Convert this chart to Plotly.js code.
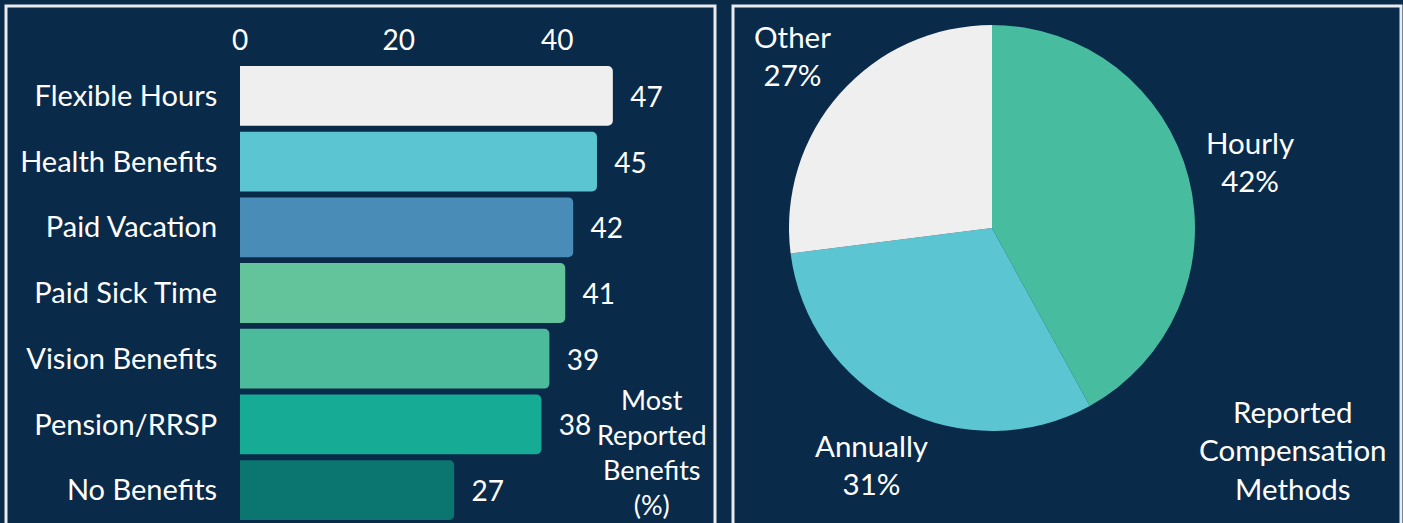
<!DOCTYPE html>
<html>
<head>
<meta charset="utf-8">
<script src="https://cdn.plot.ly/plotly-3.0.1.min.js"></script>
<style>
  html, body { margin: 0; padding: 0; background: #0a2a4a; }
  #chart { width: 1403px; height: 523px; }
</style>
</head>
<body>
<div id="chart"></div>
<script>
// Bar chart data
const benefitCategories = ["Flexible Hours", "Health Benefits", "Paid Vacation", "Paid Sick Time", "Vision Benefits", "Pension/RRSP", "No Benefits"];
const benefitValues = [47, 45, 42, 41, 39, 38, 27];
const benefitColors = ["#efefef", "#5bc5d2", "#4a8cb8", "#63c39b", "#4cbb9c", "#16ab95", "#0b7570"];
const benefitTickVals = [0, 20, 40];

// Pie chart data
const compLabels = ["Hourly", "Annually", "Other"];
const compValues = [42, 31, 27];
const compColors = ["#48bc9f", "#5bc5d2", "#efefef"];

const W = 1403, H = 523;
const px = v => v / W;
const py = v => 1 - v / H;
const FONT = "Lato, 'Open Sans', sans-serif";
const TEXT = "#ffffff";
const BORDER = "#e8eaed";

// pie placement (pixels)
const PIE_LEFT = 789, PIE_RIGHT = 1195, PIE_TOP = 25, PIE_BOTTOM = 431;
const PIE_CX = (PIE_LEFT + PIE_RIGHT) / 2, PIE_CY = (PIE_TOP + PIE_BOTTOM) / 2;
const PIE_R = (PIE_RIGHT - PIE_LEFT) / 2;
const PIE_FONT = 29.5;
const LABEL_K = 1.31;

const barTrace = {
  type: "bar",
  orientation: "h",
  y: benefitCategories,
  x: benefitValues,
  marker: { color: benefitColors, cornerradius: 5, line: { width: 0 } },
  texttemplate: "\u00a0\u00a0%{x}",
  textposition: "outside",
  outsidetextfont: { family: FONT, size: 28, color: TEXT },
  cliponaxis: false,
  xaxis: "x", yaxis: "y",
  hoverinfo: "none"
};

const pieTrace = {
  type: "pie",
  labels: compLabels,
  values: compValues,
  marker: { colors: compColors, line: { width: 0 } },
  sort: false,
  direction: "clockwise",
  rotation: 0,
  textinfo: "none",
  domain: { x: [px(PIE_LEFT), px(PIE_RIGHT)], y: [py(PIE_BOTTOM), py(PIE_TOP)] },
  hoverinfo: "none",
  showlegend: false
};

// pie labels placed radially at each slice's mid-angle
const total = compValues.reduce((a, b) => a + b, 0);
const pieLabelAnnotations = [];
let cum = 0;
compValues.forEach((v, i) => {
  const mid = (cum + v / 2) / total * 2 * Math.PI;
  cum += v;
  const lx = PIE_CX + LABEL_K * PIE_R * Math.sin(mid);
  let ly = PIE_CY - LABEL_K * PIE_R * Math.cos(mid);
  const halfBlock = PIE_FONT * 1.3;
  if (ly - halfBlock < 17) ly = 17 + halfBlock;
  pieLabelAnnotations.push({
    xref: "paper", yref: "paper",
    x: px(lx), y: py(ly),
    xanchor: "center", yanchor: "middle",
    align: "center", showarrow: false,
    text: compLabels[i] + "<br>" + Math.round(v / total * 100) + "%",
    font: { family: FONT, size: PIE_FONT, color: TEXT }
  });
});

const layout = {
  width: W, height: H,
  margin: { l: 0, r: 0, t: 0, b: 0 },
  paper_bgcolor: "#0a2a4a",
  plot_bgcolor: "rgba(0,0,0,0)",
  showlegend: false,
  font: { family: FONT, color: TEXT, size: 28 },
  bargap: 0.09,
  xaxis: {
    domain: [px(240), px(712)],
    range: [0, 59.5],
    side: "top",
    tickvals: benefitTickVals,
    showgrid: false, zeroline: false, showline: false,
    ticks: "outside", ticklen: 1, tickcolor: "rgba(0,0,0,0)",
    tickfont: { family: FONT, size: 28, color: TEXT },
    fixedrange: true
  },
  yaxis: {
    domain: [0, py(63)],
    autorange: "reversed",
    showgrid: false, zeroline: false, showline: false,
    ticks: "outside", ticklen: 16, tickcolor: "rgba(0,0,0,0)",
    tickfont: { family: FONT, size: 29, color: TEXT },
    fixedrange: true
  },
  annotations: [
    {
      xref: "paper", yref: "paper",
      x: px(652), y: py(452),
      xanchor: "center", yanchor: "middle",
      align: "center", showarrow: false,
      text: "Most<br>Reported<br>Benefits<br>(%)",
      font: { family: FONT, size: 27, color: TEXT }
    },
    {
      xref: "paper", yref: "paper",
      x: px(1293), y: py(450),
      xanchor: "center", yanchor: "middle",
      align: "center", showarrow: false,
      text: "Reported<br>Compensation<br>Methods",
      font: { family: FONT, size: 29.5, color: TEXT }
    }
  ].concat(pieLabelAnnotations),
  shapes: [
    {
      type: "rect", xref: "paper", yref: "paper", layer: "below",
      x0: px(6), x1: px(715), y0: py(560), y1: py(6),
      line: { color: BORDER, width: 3 }, fillcolor: "rgba(0,0,0,0)"
    },
    {
      type: "rect", xref: "paper", yref: "paper", layer: "below",
      x0: px(733), x1: px(1401), y0: py(560), y1: py(6),
      line: { color: BORDER, width: 3 }, fillcolor: "rgba(0,0,0,0)"
    }
  ]
};

Plotly.newPlot("chart", [barTrace, pieTrace], layout, { displayModeBar: false, staticPlot: true });
</script>
</body>
</html>
